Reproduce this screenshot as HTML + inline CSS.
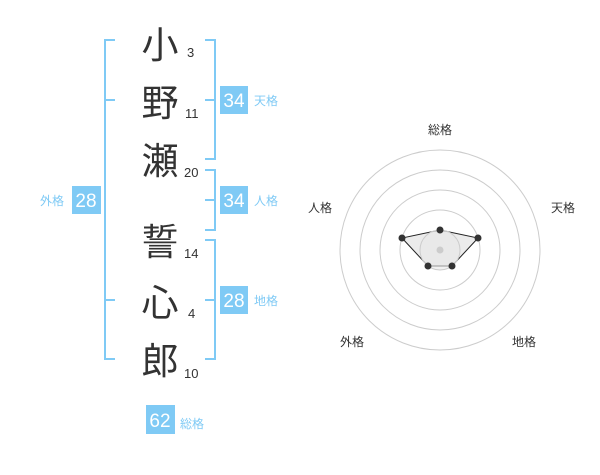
<!DOCTYPE html>
<html><head><meta charset="utf-8"><style>
html,body{margin:0;padding:0;background:#fff;}
svg text{font-family:"Liberation Sans","Noto Sans CJK JP",sans-serif;}
</style></head><body>
<svg width="600" height="470" viewBox="0 0 600 470" xmlns="http://www.w3.org/2000/svg">
<g stroke="#7fcaf5" stroke-width="2" fill="none">
<polyline points="115,40 105,40 105,359 115,359"/>
<line x1="105" y1="100" x2="115" y2="100"/>
<line x1="105" y1="300" x2="115" y2="300"/>
<polyline points="205,40 215,40 215,159 205,159"/>
<line x1="205" y1="100" x2="215" y2="100"/>
<polyline points="205,170 215,170 215,230 205,230"/>
<line x1="205" y1="200" x2="215" y2="200"/>
<polyline points="205,240 215,240 215,359 205,359"/>
<line x1="205" y1="300" x2="215" y2="300"/>
</g>
<g fill="#333" font-size="37" text-anchor="middle">
<text x="160" y="58">小</text>
<text x="160" y="116">野</text>
<text x="160" y="174">瀬</text>
<text x="160" y="255">誓</text>
<text x="160" y="316">心</text>
<text x="160" y="374">郎</text>
</g>
<g fill="#333" font-size="13">
<text x="187" y="57">3</text>
<text x="185" y="118">11</text>
<text x="184" y="177">20</text>
<text x="184" y="258">14</text>
<text x="188" y="318">4</text>
<text x="184" y="378">10</text>
</g>
<g fill="#7fcaf5">
<rect x="220" y="86" width="28" height="28"/>
<rect x="220" y="186" width="28" height="28"/>
<rect x="220" y="286" width="28" height="28"/>
<rect x="72" y="186" width="29" height="28"/>
<rect x="146" y="405" width="29" height="29"/>
</g>
<g fill="#fff" font-size="19" text-anchor="middle">
<text x="234" y="107">34</text>
<text x="234" y="207">34</text>
<text x="234" y="307">28</text>
<text x="86" y="207">28</text>
<text x="160" y="427">62</text>
</g>
<g fill="#7fcaf5" font-size="12">
<text x="254" y="105">天格</text>
<text x="254" y="205">人格</text>
<text x="254" y="305">地格</text>
<text x="40" y="205">外格</text>
<text x="180" y="428">総格</text>
</g>
<g fill="none" stroke="#ccc" stroke-width="1">
<circle cx="440" cy="250" r="100"/>
<circle cx="440" cy="250" r="80"/>
<circle cx="440" cy="250" r="60"/>
<circle cx="440" cy="250" r="40"/>
</g>
<polygon points="440,230 478,238 452,266 428,266 402,238" fill="#e6e6e6" fill-opacity="0.8" stroke="#222" stroke-width="1"/>
<circle cx="440" cy="250" r="20" fill="#e8e8e8" stroke="#ccc" stroke-width="1" fill-opacity="0.6"/>
<circle cx="440" cy="250" r="3.5" fill="#ccc"/>
<g fill="#333">
<circle cx="440" cy="230" r="3.5"/>
<circle cx="478" cy="238" r="3.5"/>
<circle cx="452" cy="266" r="3.5"/>
<circle cx="428" cy="266" r="3.5"/>
<circle cx="402" cy="238" r="3.5"/>
</g>
<g fill="#333" font-size="12" text-anchor="middle">
<text x="440" y="134">総格</text>
<text x="563" y="212">天格</text>
<text x="320" y="212">人格</text>
<text x="352" y="346">外格</text>
<text x="524" y="346">地格</text>
</g>
</svg>
</body></html>
